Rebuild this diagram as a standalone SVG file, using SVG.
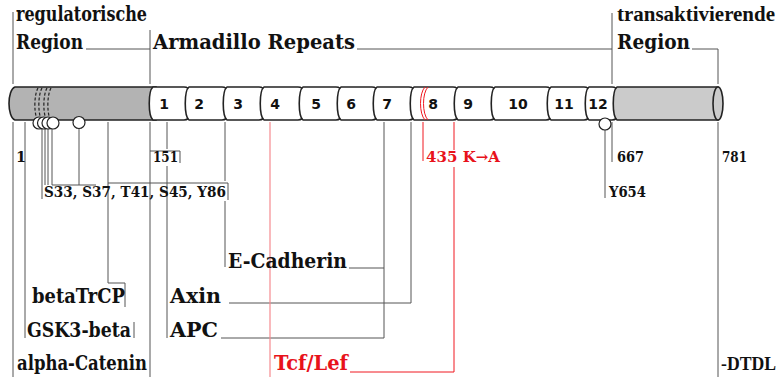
<svg xmlns="http://www.w3.org/2000/svg" width="780" height="377" viewBox="0 0 780 377">
  <style>
    .lbl { font-family: "DejaVu Serif", "Liberation Serif", serif; font-weight: bold; fill: #111; }
    .tight { font-family: "Liberation Serif", "DejaVu Serif", serif; }
    .big { font-size: 21px; }
    .mid { font-size: 21px; }
    .small { font-size: 14.5px; }
    .red { fill: #e8121b; }
    .num { font-family: "DejaVu Sans", "Liberation Sans", sans-serif; font-weight: bold; font-size: 14px; fill: #111; text-anchor: middle; }
    .seg { fill: #fff; stroke: #222; stroke-width: 1.6; }
    .ln { fill: none; stroke: #555; stroke-width: 1; }
    .rl { fill: none; stroke: #f01820; stroke-width: 1; }
    .pk { fill: none; stroke: #f58a8f; stroke-width: 1.2; }
    .dot { fill: #fff; stroke: #222; stroke-width: 1.2; }
  </style>

  <!-- connectors -->
  <g id="connectors">
    <!-- region brackets above the bar -->
    <path class="ln" d="M13 12V84"/>
    <path class="ln" d="M86 49H150V30M150 49V84"/>
    <path class="ln" d="M357 49H612M612 13V84"/>
    <path class="ln" d="M692 49H718V84"/>
    <!-- residue and binding-site lines below the bar -->
    <path class="ln" d="M13 122V377"/>
    <path class="ln" d="M25 122V338"/>
    <path class="ln" d="M42 129V199"/>
    <path class="ln" d="M45 129V185M48 129V185M52 129V185H96M79 129V185"/>
    <path class="ln" d="M108 183H228V200"/>
    <path class="ln" d="M108 122V283H125V307"/>
    <path class="ln" d="M134 322V338"/>
    <path class="ln" d="M150 122V377"/>
    <path class="ln" d="M150 151H180V163"/>
    <path class="ln" d="M167 122V149M167 166V338"/>
    <path class="ln" d="M225 122V181M225 201V267"/>
    <path class="ln" d="M349 268H384"/>
    <path class="ln" d="M384 122V338H221"/>
    <path class="ln" d="M411 122V303H229"/>
    <path class="ln" d="M612 122V162"/>
    <path class="ln" d="M605 130V198"/>
    <path class="ln" d="M718 122V377"/>
    <path class="pk" d="M270 122V377"/>
    <path class="rl" d="M423 122V161"/>
    <path class="rl" d="M454 122V150M454 167V372H350"/>
  </g>

  <!-- regulatory region -->
  <g id="regulatory">
    <path d="M15 87H156V120H15C7 117 7 90 15 87Z" fill="#b3b3b3" stroke="#222" stroke-width="1.6"/>
    <g fill="none" stroke="#222" stroke-width="1.2" stroke-dasharray="3 2">
      <path d="M38 88C34 95 34 112 37 119"/>
      <path d="M42 88C38 95 38 112 41 119"/>
      <path d="M47 88C43 95 43 112 46 119"/>
      <path d="M51 88C47 95 47 112 50 119"/>
    </g>
  </g>

  <!-- armadillo repeats -->
  <g id="repeat1"><path class="seg" d="M153 87H184Q189 87 190 92V115Q189 120 184 120H153C148 116 148 91 153 87Z"/><text class="num" x="164" y="109">1</text></g>
  <g id="repeat2"><path class="seg" d="M189 87H222Q227 87 228 92V115Q227 120 222 120H189C184 116 184 91 189 87Z"/><text class="num" x="199" y="109">2</text></g>
  <g id="repeat3"><path class="seg" d="M227 87H259Q264 87 265 92V115Q264 120 259 120H227C222 116 222 91 227 87Z"/><text class="num" x="238" y="109">3</text></g>
  <g id="repeat4"><path class="seg" d="M264 87H298Q303 87 304 92V115Q303 120 298 120H264C259 116 259 91 264 87Z"/><text class="num" x="275" y="109">4</text></g>
  <g id="repeat5"><path class="seg" d="M303 87H336Q341 87 342 92V115Q341 120 336 120H303C298 116 298 91 303 87Z"/><text class="num" x="316" y="109">5</text></g>
  <g id="repeat6"><path class="seg" d="M341 87H372Q377 87 378 92V115Q377 120 372 120H341C336 116 336 91 341 87Z"/><text class="num" x="351" y="109">6</text></g>
  <g id="repeat7"><path class="seg" d="M377 87H409Q414 87 415 92V115Q414 120 409 120H377C372 116 372 91 377 87Z"/><text class="num" x="387" y="109">7</text></g>
  <g id="repeat8"><path class="seg" d="M414 87H453Q458 87 459 92V115Q458 120 453 120H414C409 116 409 91 414 87Z"/>
    <path class="rl" d="M425 87C419 93 419 114 425 120M428 87C422 93 422 114 428 120"/>
    <text class="num" x="433" y="109">8</text></g>
  <g id="repeat9"><path class="seg" d="M458 87H490Q495 87 496 92V115Q495 120 490 120H458C453 116 453 91 458 87Z"/><text class="num" x="468" y="109">9</text></g>
  <g id="repeat10"><path class="seg" d="M495 87H546Q551 87 552 92V115Q551 120 546 120H495C490 116 490 91 495 87Z"/><text class="num" x="518" y="109">10</text></g>
  <g id="repeat11"><path class="seg" d="M551 87H584Q589 87 590 92V115Q589 120 584 120H551C546 116 546 91 551 87Z"/><text class="num" x="564" y="109">11</text></g>
  <g id="repeat12"><path class="seg" d="M589 87H612Q617 87 618 92V115Q617 120 612 120H589C584 116 584 91 589 87Z"/><text class="num" x="598" y="109">12</text></g>

  <!-- transactivating region -->
  <g id="transactivating">
    <path d="M617 87H718V120H617C612 116 612 91 617 87Z" fill="#cbcbcb" stroke="#222" stroke-width="1.6"/>
    <ellipse cx="718" cy="103.5" rx="5" ry="16.5" fill="#cbcbcb" stroke="#222" stroke-width="1.6"/>
  </g>

  <!-- phosphorylation sites -->
  <g id="sites">
    <circle class="dot" cx="39" cy="123" r="6"/>
    <circle class="dot" cx="43.5" cy="123" r="6"/>
    <circle class="dot" cx="48" cy="123" r="6"/>
    <circle class="dot" cx="53" cy="123" r="6"/>
    <circle class="dot" cx="79" cy="122.5" r="6"/>
    <circle class="dot" cx="605" cy="124" r="6"/>
  </g>

  <!-- region headings -->
  <g id="headings">
    <text class="lbl big" x="16" y="21" textLength="131" lengthAdjust="spacingAndGlyphs">regulatorische</text>
    <text class="lbl big" x="16" y="49" textLength="67" lengthAdjust="spacingAndGlyphs">Region</text>
    <text class="lbl big" x="153" y="49" textLength="202" lengthAdjust="spacingAndGlyphs">Armadillo Repeats</text>
    <text class="lbl tight" x="617" y="21" font-size="21" textLength="158" lengthAdjust="spacingAndGlyphs">transaktivierende</text>
    <text class="lbl big" x="617" y="49" textLength="73" lengthAdjust="spacingAndGlyphs">Region</text>
  </g>

  <!-- residue labels -->
  <g id="residues">
    <text class="lbl small" x="16" y="162">1</text>
    <text class="lbl small" x="153" y="162" textLength="25" lengthAdjust="spacingAndGlyphs">151</text>
    <text class="lbl small red" x="426" y="162" textLength="74" lengthAdjust="spacingAndGlyphs">435 K→A</text>
    <text class="lbl small" x="617" y="162" textLength="27" lengthAdjust="spacingAndGlyphs">667</text>
    <text class="lbl small" x="722" y="162" textLength="25" lengthAdjust="spacingAndGlyphs">781</text>
    <text class="lbl small" x="44" y="197" textLength="182" lengthAdjust="spacingAndGlyphs">S33, S37, T41, S45, Y86</text>
    <text class="lbl small" x="609" y="197" textLength="37" lengthAdjust="spacingAndGlyphs">Y654</text>
  </g>

  <!-- binding partners -->
  <g id="e-cadherin"><text class="lbl mid" x="228" y="268" textLength="119" lengthAdjust="spacingAndGlyphs">E-Cadherin</text></g>
  <g id="axin"><text class="lbl mid" x="170" y="303" textLength="51" lengthAdjust="spacingAndGlyphs">Axin</text></g>
  <g id="apc"><text class="lbl mid" x="170" y="337" textLength="48" lengthAdjust="spacingAndGlyphs">APC</text></g>
  <g id="betatrcp"><text class="lbl mid" x="32" y="303" textLength="93" lengthAdjust="spacingAndGlyphs">betaTrCP</text></g>
  <g id="gsk3beta"><text class="lbl mid" x="27" y="337" textLength="104" lengthAdjust="spacingAndGlyphs">GSK3-beta</text></g>
  <g id="alpha-catenin"><text class="lbl mid" x="17" y="370" textLength="130" lengthAdjust="spacingAndGlyphs">alpha-Catenin</text></g>
  <g id="tcf-lef"><text class="lbl mid red" x="274" y="370" textLength="74" lengthAdjust="spacingAndGlyphs">Tcf/Lef</text></g>
  <g id="dtdl"><text class="lbl tight" x="721" y="370" font-size="19" textLength="55" lengthAdjust="spacingAndGlyphs">-DTDL</text></g>
</svg>
